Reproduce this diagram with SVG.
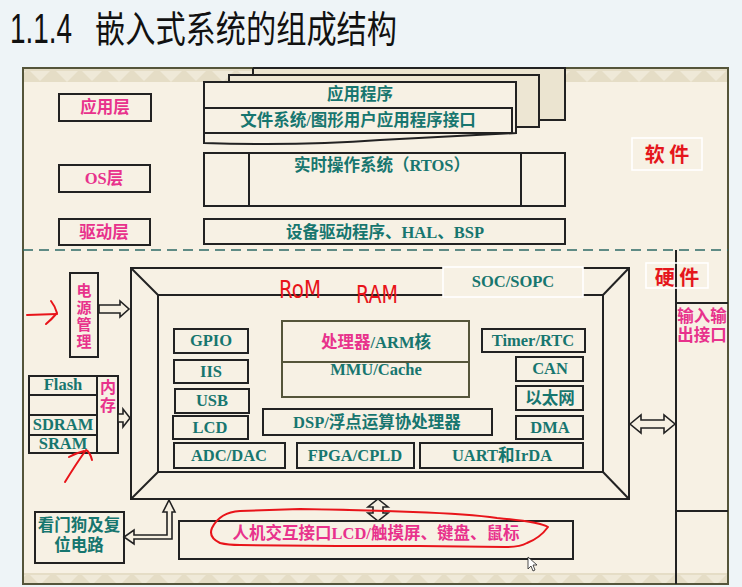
<svg xmlns="http://www.w3.org/2000/svg" width="742" height="587" viewBox="0 0 742 587">
  <defs>
    <style>
      .box { fill: none; stroke: #222; stroke-width: 2; }
      .lbl { fill: none; stroke: #ffffff; stroke-width: 1.6; }
      .teal { fill: #17766f; font-family: "Liberation Serif", "Noto Sans CJK SC", serif; font-weight: bold; font-size: 16.5px; text-anchor: middle; }
      .pink { fill: #e8328c; font-family: "Liberation Serif", "Noto Sans CJK SC", serif; font-weight: bold; font-size: 16.5px; text-anchor: middle; }
      .vert { fill: #e8328c; font-family: "Noto Sans CJK SC", sans-serif; font-weight: bold; writing-mode: vertical-rl; }
      .red { fill: #e5161c; font-family: "Noto Sans CJK SC", sans-serif; font-weight: bold; font-size: 20px; text-anchor: middle; }
      .hollow { fill: #f6f0e2; stroke: #222; stroke-width: 1.6; stroke-linejoin: miter; }
      .pen { fill: none; stroke: #e8141a; stroke-width: 2; stroke-linecap: round; stroke-linejoin: round; }
      .hand { fill: #e8141a; font-family: "DejaVu Sans", sans-serif; font-size: 25px; }
    </style>
    <pattern id="band" x="0" y="0" width="52" height="14" patternUnits="userSpaceOnUse">
      <rect width="52" height="14" fill="#e5ddc6"/>
      <path d="M4 1 L26 1 L15 12 Z M30 1 L50 1 L40 11 Z" fill="#efe9d8"/>
    </pattern>
  </defs>

  <!-- page -->
  <rect x="0" y="0" width="742" height="587" fill="#eef4f7"/>

  <!-- title -->
  <g id="title">
    <text x="10" y="43" font-family="Liberation Sans, Arial, sans-serif" font-size="42" fill="#111" textLength="62" lengthAdjust="spacingAndGlyphs">1.1.4</text>
    <text x="95" y="43" font-family="Noto Sans CJK SC, sans-serif" font-size="37" fill="#111" textLength="302" lengthAdjust="spacingAndGlyphs">嵌入式系统的组成结构</text>
  </g>

  <!-- panel -->
  <g id="panel">
    <rect x="23" y="68" width="705" height="516" fill="#f7f1e4"/>
    <rect x="23" y="68" width="705" height="14" fill="url(#band)"/>
    <rect x="23" y="573" width="705" height="11" fill="url(#band)"/>
    <rect x="23" y="68" width="705" height="516" fill="none" stroke="#55553a" stroke-width="2"/>
    <line x1="23" y1="250" x2="728" y2="250" stroke="#2e6a66" stroke-width="1.6" stroke-dasharray="10 6"/>
  </g>

  <!-- software layers -->
  <g id="layer-app">
    <rect class="box" x="59" y="94" width="92" height="27"/>
    <text class="pink" x="105" y="113">应用层</text>
  </g>
  <g id="layer-os">
    <rect class="box" x="59" y="165" width="91" height="27"/>
    <text class="pink" x="104" y="184">OS层</text>
  </g>
  <g id="layer-driver">
    <rect class="box" x="59" y="219" width="91" height="26"/>
    <text class="pink" x="104" y="238">驱动层</text>
  </g>

  <g id="app-stack">
    <path d="M253 68 H565 V120 H539 V75 H253 Z" fill="#ebe4d0"/>
    <path class="box" d="M253 68 H565 V120 H539"/>
    <path d="M229 75 H539 V127 H516 V82 H229 Z" fill="#ede6d3"/>
    <path class="box" d="M229 82 V75 H539 V127 H516"/>
    <path class="box" d="M253 68 V75"/>
    <path d="M204 82 H516 V133 Q460 136 380 140 Q300 146 204 143 Z" fill="#f7f1e4"/>
    <path class="box" d="M204 82 H516 V133 Q460 136 380 140 Q300 146 204 143 Z"/>
    <rect class="box" x="204" y="108" width="308" height="25"/>
    <text class="teal" x="360" y="100">应用程序</text>
    <text class="teal" x="358" y="126" font-size="17">文件系统/图形用户应用程序接口</text>
  </g>

  <g id="rtos">
    <rect class="box" x="204" y="153" width="361" height="53"/>
    <line class="box" x1="249" y1="153" x2="249" y2="206"/>
    <line class="box" x1="521" y1="153" x2="521" y2="206"/>
    <text class="teal" x="382" y="171">实时操作系统（RTOS）</text>
  </g>

  <g id="drivers">
    <rect class="box" x="204" y="219" width="361" height="25"/>
    <text class="teal" x="385" y="238" font-size="17">设备驱动程序、HAL、BSP</text>
  </g>

  <g id="software-label">
    <rect class="lbl" x="632" y="138" width="70" height="32"/>
    <text class="red" x="667" y="162">软 件</text>
  </g>

  <!-- hardware -->
  <g id="io-column">
    <line class="box" x1="676" y1="250" x2="676" y2="584"/>
    <line class="box" x1="676" y1="303" x2="728" y2="303"/>
    <line class="box" x1="676" y1="511" x2="728" y2="511"/>
    <text class="pink" x="702" y="322" font-size="16.5">输入输</text>
    <text class="pink" x="702" y="341" font-size="16.5">出接口</text>
  </g>
  <g id="hardware-label">
    <rect class="lbl" x="646" y="263" width="62" height="25"/>
    <text class="red" x="677" y="285" font-size="21">硬 件</text>
  </g>

  <g id="power">
    <rect class="box" x="70" y="273" width="28" height="84"/>
    <text class="vert" x="84" y="283" font-size="15" letter-spacing="2">电源管理</text>
  </g>

  <g id="memory">
    <rect class="box" x="29" y="376" width="89" height="77"/>
    <line class="box" x1="97" y1="376" x2="97" y2="453"/>
    <line class="box" x1="29" y1="395" x2="97" y2="395"/>
    <line class="box" x1="29" y1="415" x2="97" y2="415"/>
    <line class="box" x1="29" y1="435" x2="97" y2="435"/>
    <text class="teal" x="63" y="390" font-size="14">Flash</text>
    <text class="teal" x="63" y="430" font-size="14.5">SDRAM</text>
    <text class="teal" x="63" y="449" font-size="14.5">SRAM</text>
    <text class="vert" x="108" y="379" font-size="16" letter-spacing="2">内存</text>
  </g>

  <g id="soc">
    <rect class="box" x="131" y="268" width="498" height="231"/>
    <rect class="box" x="158" y="295" width="445" height="177"/>
    <line class="box" x1="131" y1="268" x2="158" y2="295"/>
    <line class="box" x1="629" y1="268" x2="603" y2="295"/>
    <line class="box" x1="131" y1="499" x2="158" y2="472"/>
    <line class="box" x1="629" y1="499" x2="603" y2="472"/>
    <rect x="443" y="267" width="140" height="30" fill="#f7f1e4" stroke="#ffffff" stroke-width="1.6"/>
    <text class="teal" x="513" y="287">SOC/SOPC</text>
  </g>

  <g id="gpio"><rect class="box" x="174" y="329" width="74" height="24"/><text class="teal" x="211" y="346">GPIO</text></g>
  <g id="iis"><rect class="box" x="174" y="360" width="74" height="23"/><text class="teal" x="211" y="377">IIS</text></g>
  <g id="usb"><rect class="box" x="175" y="389" width="74" height="24"/><text class="teal" x="212" y="406">USB</text></g>
  <g id="lcd"><rect class="box" x="173" y="416" width="75" height="23"/><text class="teal" x="210" y="433">LCD</text></g>
  <g id="adc"><rect class="box" x="174" y="443" width="111" height="25"/><text class="teal" x="229" y="461">ADC/DAC</text></g>
  <g id="fpga"><rect class="box" x="297" y="443" width="117" height="25"/><text class="teal" x="355" y="461">FPGA/CPLD</text></g>
  <g id="uart"><rect class="box" x="420" y="443" width="163" height="25"/><text class="teal" x="502" y="461">UART和IrDA</text></g>
  <g id="dsp"><rect class="box" x="263" y="409" width="229" height="26"/><text class="teal" x="377" y="428" font-size="16">DSP/浮点运算协处理器</text></g>
  <g id="cpu">
    <rect x="282" y="321" width="187" height="76" fill="none" stroke="#55553a" stroke-width="2"/>
    <line x1="282" y1="362" x2="469" y2="362" stroke="#55553a" stroke-width="2"/>
    <text class="teal" x="376" y="348" font-size="17"><tspan fill="#e8328c">处理器</tspan>/ARM核</text>
    <text class="teal" x="376" y="375" font-size="12.5">MMU/Cache</text>
  </g>
  <g id="timer"><rect class="box" x="482" y="329" width="103" height="23"/><text class="teal" x="533" y="346">Timer/RTC</text></g>
  <g id="can"><rect class="box" x="516" y="357" width="67" height="24"/><text class="teal" x="550" y="374">CAN</text></g>
  <g id="ethernet"><rect class="box" x="516" y="386" width="67" height="24"/><text class="teal" x="550" y="404">以太网</text></g>
  <g id="dma"><rect class="box" x="516" y="416" width="67" height="23"/><text class="teal" x="550" y="433">DMA</text></g>

  <g id="hmi">
    <rect class="box" x="179" y="521" width="394" height="38"/>
    <text class="pink" x="376" y="539" font-size="17.5">人机交互接口LCD/触摸屏、键盘、鼠标</text>
  </g>

  <g id="watchdog">
    <rect class="box" x="35" y="512" width="89" height="51"/>
    <text class="teal" x="79" y="531">看门狗及复</text>
    <text class="teal" x="79" y="551">位电路</text>
  </g>

  <!-- connectors -->
  <g id="connectors">
    <polygon class="hollow" points="99,305 120,305 120,301 129,309 120,317 120,313 99,313"/>
    <polygon class="hollow" points="118,414 123,414 123,409 130,418 123,427 123,422 118,422"/>
    <polygon class="hollow" points="630,424 641,415 641,420 664,420 664,415 675,424 664,433 664,428 641,428 641,433"/>
    <polygon class="hollow" points="378,499 388,507 383,507 383,513 388,513 378,521 368,513 373,513 373,507 368,507"/>
    <polygon class="hollow" points="169,500 175,512 172,512 172,539 134,539 134,544 124,537 134,530 134,535 167,535 167,512 163,512"/>
  </g>

  <!-- pen marks -->
  <g id="pen-marks">
    <path class="pen" d="M27 315 L57 314"/>
    <path class="pen" d="M51 301 Q55 306 57 313 Q52 319 46 324"/>
    <path class="pen" d="M65 482 Q76 464 86 450 Q90 452 92 460"/>
    <path class="pen" d="M69 457 Q76 453 84 451"/>
    <path class="pen" d="M220 543 Q208 537 212 528 Q220 512 240 511 L300 509 Q360 510 413 512 Q470 514 497 518 Q540 522 548 527 Q540 538 527 543 Q520 547 505 547 L420 546 Q330 546 240 545 Q228 545 220 543"/>
    <text class="hand" x="279" y="298" textLength="42" lengthAdjust="spacingAndGlyphs">RoM</text>
    <text class="hand" x="356" y="303" textLength="42" lengthAdjust="spacingAndGlyphs">RAM</text>
  </g>

  <!-- pointer -->
  <g id="pointer">
    <path d="M528 557 L528 569 L531 566 L533 571 L535 570 L533 565 L537 565 Z" fill="#ffffff" stroke="#222" stroke-width="0.8"/>
  </g>
</svg>
